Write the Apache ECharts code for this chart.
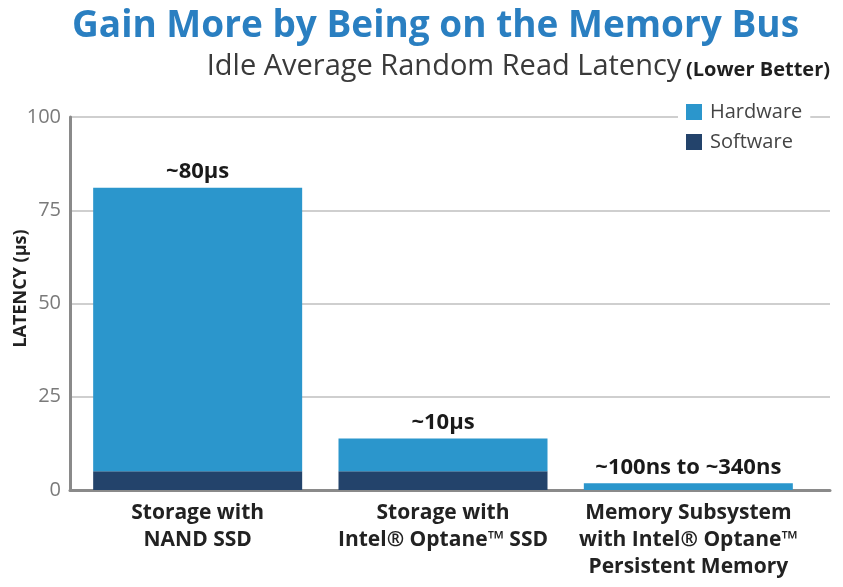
<!DOCTYPE html>
<html><head><meta charset="utf-8">
<script src="https://cdn.jsdelivr.net/npm/echarts@6/dist/echarts.min.js"></script>
<style>html,body{margin:0;padding:0;background:#fff}#c{width:843px;height:587px}</style>
</head><body><div id="c"></div>
<script>
const categories = ['Storage with\nNAND SSD', 'Storage with\nIntel® Optane™ SSD', 'Memory Subsystem\nwith Intel® Optane™\nPersistent Memory'];
const softwareValues = [5, 5, 0];
const hardwareValues = [76, 8.8, 1.8];
const barLabels = ['~80µs', '~10µs', '~100ns to ~340ns'];
const yTicks = [0, 25, 50, 75, 100];

const chart = echarts.init(document.getElementById('c'));
const font = '"Open Sans", "Noto Sans", sans-serif';
const yMin = yTicks[0], yMax = yTicks[yTicks.length - 1];
chart.setOption({
  animation: false,
  backgroundColor: '#fff',
  textStyle: { fontFamily: font },
  title: [
    { text: 'Gain More by Being on the Memory Bus', left: 67, top: 3,
      textStyle: { fontFamily: font, fontSize: 37, fontWeight: 'bold', color: '#2a7fc1' } },
    { text: '{a|Idle Average Random Read Latency} {b|(Lower Better)}', right: 8, top: 47,
      textStyle: { fontWeight: 'normal', rich: {
        a: { fontFamily: font, fontSize: 29, fontWeight: 'normal', color: '#3a3a3a' },
        b: { fontFamily: font, fontSize: 20, fontWeight: 'bold', color: '#1f1f1f', padding: [7, 0, 0, 0] }
      } } }
  ],
  legend: {
    data: ['Hardware', 'Software'], orient: 'vertical', left: 678, top: 100,
    itemWidth: 16, itemHeight: 16, itemGap: 10, icon: 'rect',
    backgroundColor: '#fff', padding: [2, 8, 2, 8],
    textStyle: { fontFamily: font, fontSize: 20, color: '#444', padding: [0, 0, 0, 3] }
  },
  grid: [
    { left: 70, right: 13, top: 117, bottom: 97, containLabel: false, outerBoundsMode: 'none' },
    { left: 75, right: 32, top: 117, bottom: 97, containLabel: false, outerBoundsMode: 'none' }
  ],
  xAxis: [
    { type: 'category', gridIndex: 0, data: categories,
      axisLine: { show: true, lineStyle: { color: '#8a8a8a', width: 3 } },
      axisTick: { show: false }, axisLabel: { show: false } },
    { type: 'category', gridIndex: 1, data: categories,
      axisLine: { show: false }, axisTick: { show: false },
      axisLabel: { interval: 0, color: '#222', fontSize: 21, fontWeight: 'bold', lineHeight: 27, margin: 10, fontFamily: font } }
  ],
  yAxis: [
    { type: 'value', gridIndex: 0, min: yMin, max: yMax, interval: 25,
      name: 'LATENCY (µs)', nameLocation: 'middle', nameGap: 40, nameMoveOverlap: false,
      nameTextStyle: { fontSize: 18, fontWeight: 'bold', color: '#222', padding: [0, 0, 0, 30], fontFamily: font },
      axisLine: { show: true, lineStyle: { color: '#8a8a8a', width: 3 } },
      axisTick: { show: false },
      axisLabel: { color: '#7a7a7a', fontSize: 20, margin: 9, fontFamily: font },
      splitLine: { lineStyle: { color: '#cfcfcf', width: 2 } } },
    { type: 'value', gridIndex: 1, min: yMin, max: yMax, interval: 25, show: false,
      splitLine: { show: false } }
  ],
  series: [
    { name: 'Software', type: 'bar', stack: 'lat', xAxisIndex: 1, yAxisIndex: 1, data: softwareValues, barWidth: 209,
      itemStyle: { color: '#23436b' } },
    { name: 'Hardware', type: 'bar', stack: 'lat', xAxisIndex: 1, yAxisIndex: 1, data: hardwareValues, barWidth: 209,
      itemStyle: { color: '#2b96cc' },
      label: { show: true, position: 'top', distance: 5, color: '#1a1a1a', fontSize: 22, fontWeight: 'bold', fontFamily: font,
        formatter: p => barLabels[p.dataIndex] } }
  ]
});
</script></body></html>
